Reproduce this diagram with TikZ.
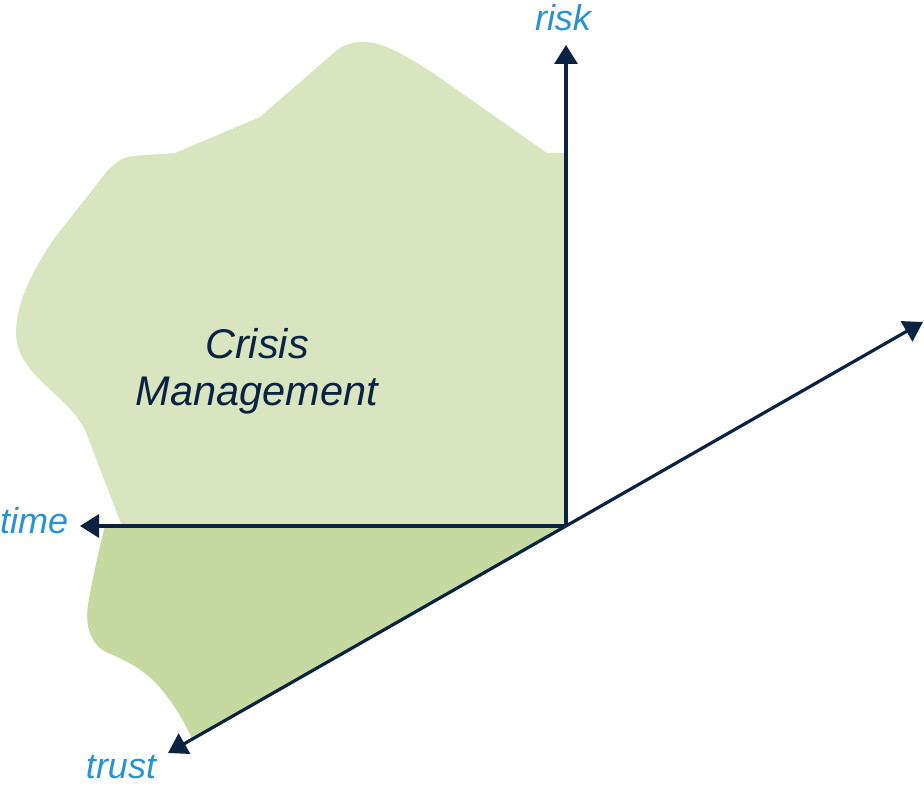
\documentclass[tikz,border=0pt]{standalone}
\usepackage{fontspec}
\setmainfont{Liberation Sans}
\usetikzlibrary{arrows.meta}
\definecolor{lightg}{RGB}{216,229,191}
\definecolor{darkg}{RGB}{197,217,160}
\definecolor{navy}{RGB}{11,35,66}
\definecolor{lblue}{RGB}{40,146,210}
\tikzset{
  axis/.style={draw=navy, line width=3.2pt, -{Triangle[length=19pt 0,width=23pt 0]}},
  axlabel/.style={text=lblue, inner sep=0pt, font=\fontsize{36}{40}\selectfont\itshape},
  title/.style={text=navy, inner sep=0pt, align=center, font=\fontsize{41.5}{47}\selectfont\itshape}
}
\begin{document}
\begin{tikzpicture}[x=1pt,y=-1pt]
\useasboundingbox (0,0) rectangle (924,789);
% coordinates
\coordinate (O) at (566,526);
\coordinate (R) at (566,45);
\coordinate (T) at (80,526);
\coordinate (TR) at (168,753);
\coordinate (F) at (923,322);
% light region
\fill[lightg] (566,526) -- (566,153) -- (547,153) -- (433,73)
  .. controls (400,52) and (382,42) .. (362,42)
  .. controls (352,42) and (344,45) .. (337,50)
  -- (260,117) -- (175,153) -- (132,156)
  .. controls (124,157) and (116,162) .. (108,170)
  -- (53,240)
  .. controls (30,275) and (16,305) .. (16,333)
  .. controls (16,350) and (25,365) .. (40,380)
  .. controls (55,395) and (75,410) .. (85,430)
  -- (122,526) -- cycle;
% dark region
\fill[darkg] (566,526) -- (105,526)
  .. controls (100,545) and (92,580) .. (88,605)
  .. controls (85,625) and (90,645) .. (108,653)
  .. controls (125,660) and (140,668) .. (153,680)
  .. controls (170,698) and (183,718) .. (192,739)
  -- cycle;
% axes
\draw[axis] (O) -- (R);
\draw[axis] (O) -- (T);
\draw[axis] (O) -- (TR);
\draw[axis] (O) -- (F);
% labels
\node[axlabel, anchor=base] (risk) at (563,31) {risk};
\node[axlabel, anchor=base west] (time) at (0,533) {time};
\node[axlabel, anchor=base] (trust) at (121,778) {trust};
\node[title] (cm) at (257,371) {Crisis\\Management};
\end{tikzpicture}
\end{document}
